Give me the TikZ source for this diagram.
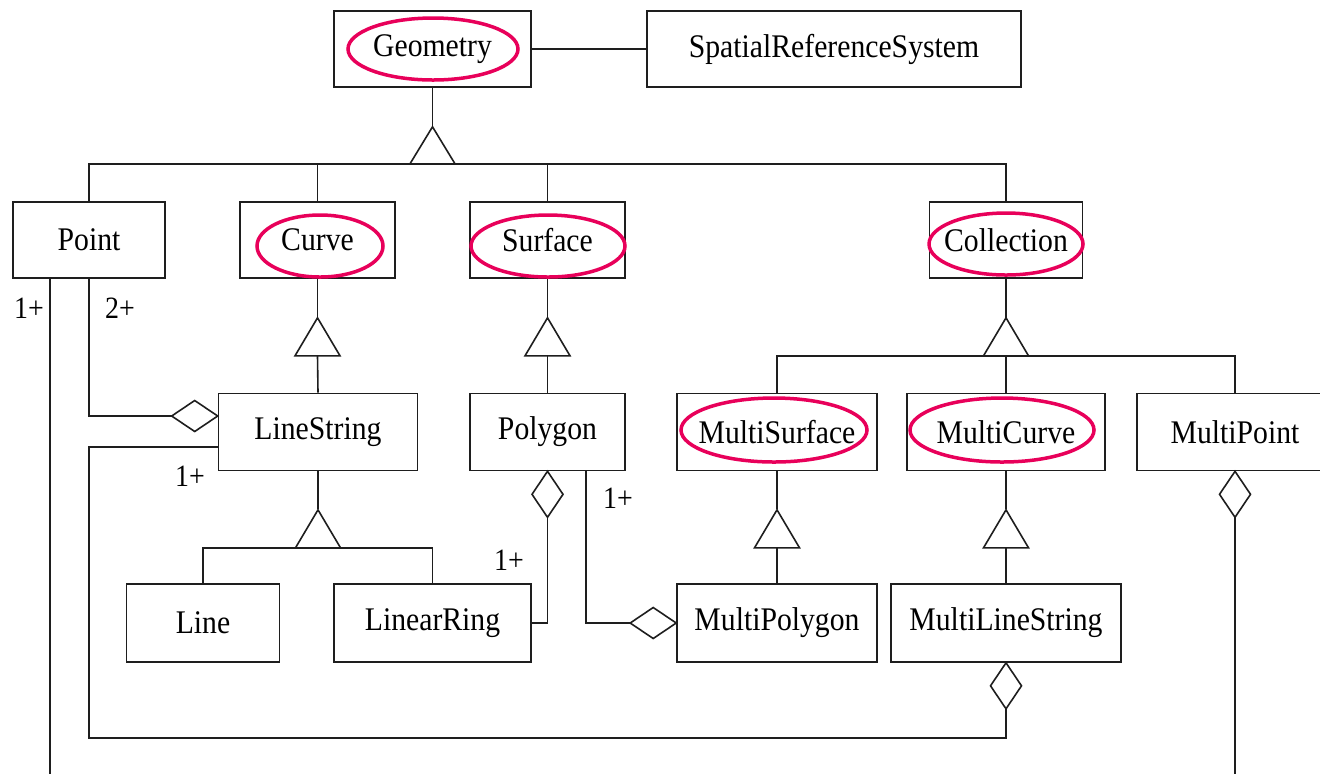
\documentclass[tikz,border=0pt]{standalone}
\usepackage{fontspec}
\setmainfont[FakeStretch=0.9]{Liberation Serif}
\usetikzlibrary{calc}
\definecolor{ink}{RGB}{30,30,30}
\definecolor{hot}{RGB}{232,0,90}
\begin{document}
\begin{tikzpicture}[x=0.5pt,y=-0.5pt,
  cls/.style={draw=ink, line width=0.8pt, fill=white, inner sep=0pt,
              font=\fontsize{16.5}{19}\selectfont},
  conn/.style={draw=ink, line width=0.8pt},
  gen/.style={draw=ink, line width=0.8pt, fill=white, line join=miter},
  hl/.style={draw=hot, line width=1.75pt},
  mult/.style={inner sep=0pt, font=\fontsize{15.5}{18}\selectfont}]
\useasboundingbox (0,0) rectangle (1320,773);

% classes
\node[cls, minimum width=98.5pt, minimum height=38pt] (geom) at (432.5,49) {Geometry};
\node[cls, minimum width=187pt, minimum height=38pt] (srs) at (834,49) {SpatialReferenceSystem};
\node[cls, minimum width=76pt, minimum height=38pt] (point) at (89,240) {Point};
\node[cls, minimum width=77.5pt, minimum height=38pt] (curve) at (317.5,240) {Curve};
\node[cls, minimum width=77.5pt, minimum height=38pt] (surface) at (547.5,240) {Surface};
\node[cls, minimum width=76.5pt, minimum height=38pt] (collection) at (1006,240) {Collection};
\node[cls, minimum width=99.5pt, minimum height=38.5pt] (linestring) at (318,432) {LineString};
\node[cls, minimum width=77.5pt, minimum height=38.5pt] (polygon) at (547.5,432) {Polygon};
\node[cls, minimum width=100pt, minimum height=38.5pt] (multisurface) at (777,432) {MultiSurface};
\node[cls, minimum width=99pt, minimum height=38.5pt] (multicurve) at (1006,432) {MultiCurve};
\node[cls, minimum width=98pt, minimum height=38.5pt] (multipoint) at (1235,432) {MultiPoint};
\node[cls, minimum width=76.5pt, minimum height=39pt] (line) at (203,623) {Line};
\node[cls, minimum width=98.5pt, minimum height=39pt] (linearring) at (432.5,623) {LinearRing};
\node[cls, minimum width=100pt, minimum height=39pt] (multipolygon) at (777,623) {MultiPolygon};
\node[cls, minimum width=115pt, minimum height=39pt] (multilinestring) at (1006,623) {MultiLineString};

% plain association
\draw[conn] (geom) -- (srs);

% generalisation: Geometry
\coordinate (gA) at ($(geom.south)+(0,39)$);
\coordinate (gB) at ($(geom.south)+(0,76)$);
\draw[conn] (geom.south) -- (gA);
\draw[conn] (point.north) -- (point.north |- gB) -- (collection.north |- gB) -- (collection.north);
\draw[conn] (curve.north) -- (curve.north |- gB);
\draw[conn] (surface.north) -- (surface.north |- gB);
\draw[gen] (gB) ++(-22.5,0) -- ++(22.5,-37) -- ++(22.5,37) -- cycle;

% generalisation: Curve
\coordinate (cA) at ($(curve.south)+(0,39)$);
\coordinate (cB) at ($(curve.south)+(0,77)$);
\draw[conn] (curve.south) -- (cA);
\draw[conn] (cB) -- (linestring.north);
\draw[gen] (cB) ++(-22.5,0) -- ++(22.5,-38) -- ++(22.5,38) -- cycle;

% generalisation: Surface
\coordinate (sA) at ($(surface.south)+(0,39)$);
\coordinate (sB) at ($(surface.south)+(0,77)$);
\draw[conn] (surface.south) -- (sA);
\draw[conn] (sB) -- (polygon.north);
\draw[gen] (sB) ++(-22.5,0) -- ++(22.5,-38) -- ++(22.5,38) -- cycle;

% generalisation: Collection
\coordinate (kA) at ($(collection.south)+(0,39)$);
\coordinate (kB) at ($(collection.south)+(0,77)$);
\draw[conn] (collection.south) -- (kA);
\draw[conn] (multisurface.north) -- (multisurface.north |- kB) -- (multipoint.north |- kB) -- (multipoint.north);
\draw[conn] (kB) -- (multicurve.north);
\draw[gen] (kB) ++(-22.5,0) -- ++(22.5,-38) -- ++(22.5,38) -- cycle;

% generalisation: LineString
\coordinate (lA) at ($(linestring.south)+(0,38)$);
\coordinate (lB) at ($(linestring.south)+(0,76.5)$);
\draw[conn] (linestring.south) -- (lA);
\draw[conn] (line.north) -- (line.north |- lB) -- (linearring.north |- lB) -- (linearring.north);
\draw[gen] (lB) ++(-22.5,0) -- ++(22.5,-38) -- ++(22.5,38) -- cycle;

% generalisation: MultiSurface
\coordinate (msA) at ($(multisurface.south)+(0,38)$);
\coordinate (msB) at ($(multisurface.south)+(0,76.5)$);
\draw[conn] (multisurface.south) -- (msA);
\draw[conn] (msB) -- (multipolygon.north);
\draw[gen] (msB) ++(-22.5,0) -- ++(22.5,-38) -- ++(22.5,38) -- cycle;

% generalisation: MultiCurve
\coordinate (mcA) at ($(multicurve.south)+(0,38)$);
\coordinate (mcB) at ($(multicurve.south)+(0,76.5)$);
\draw[conn] (multicurve.south) -- (mcA);
\draw[conn] (mcB) -- (multilinestring.north);
\draw[gen] (mcB) ++(-22.5,0) -- ++(22.5,-38) -- ++(22.5,38) -- cycle;

% aggregation: LineString made of Points
\coordinate (dLS) at ($(linestring.west)+(0,-16)$);
\coordinate (dLSend) at ($(dLS)+(-46,0)$);
\draw[conn] (point.south) |- (dLSend);
\draw[gen] (dLS) -- ++(-23,-15.5) -- ++(-23,15.5) -- ++(23,15.5) -- cycle;

% aggregation: Points of MultiPoint / Point
\draw[conn] ($(point.south)+(-39,0)$) -- ++(0,500);
\draw[gen] (multipoint.south) -- ++(15.5,23) -- ++(-15.5,23) -- ++(-15.5,-23) -- cycle;
\draw[conn] ($(multipoint.south)+(0,46)$) -- ++(0,300);

% aggregation: Polygon made of LinearRings
\draw[gen] (polygon.south) -- ++(15.5,23) -- ++(-15.5,23) -- ++(-15.5,-23) -- cycle;
\draw[conn] ($(polygon.south)+(0,46)$) |- (linearring.east);

% aggregation: MultiPolygon made of Polygons
\coordinate (dMP) at ($(multipolygon.west)+(-46,0)$);
\draw[conn] ($(polygon.south)+(38.5,0)$) |- (dMP);
\draw[gen] (multipolygon.west) -- ++(-23,-15.5) -- ++(-23,15.5) -- ++(23,15.5) -- cycle;

% aggregation: MultiLineString made of LineStrings
\coordinate (loopL) at ($(point.south)+(0,459)$);
\draw[gen] (multilinestring.south) -- ++(15.5,23) -- ++(-15.5,23) -- ++(-15.5,-23) -- cycle;
\draw[conn] ($(linestring.west)+(0,15)$) -| (loopL) -| ($(multilinestring.south)+(0,46)$);

% multiplicities
\node[mult] (m1) at (29,308) {1+};
\node[mult] (m2) at (120,308) {2+};
\node[mult] (m3) at (190,476) {1+};
\node[mult] (m4) at (618,498) {1+};
\node[mult] (m5) at (509,560) {1+};

% highlighted abstract classes
\draw[hl] (433,49) ellipse [x radius=42.5pt, y radius=15.5pt];
\draw[hl] (320,246) ellipse [x radius=31.5pt, y radius=15.5pt];
\draw[hl] (548,246) ellipse [x radius=38.5pt, y radius=15.5pt];
\draw[hl] (1006,244) ellipse [x radius=38.5pt, y radius=15.5pt];
\draw[hl] (774,430) ellipse [x radius=46.5pt, y radius=16pt];
\draw[hl] (1002,430) ellipse [x radius=46pt, y radius=16pt];
\end{tikzpicture}
\end{document}
